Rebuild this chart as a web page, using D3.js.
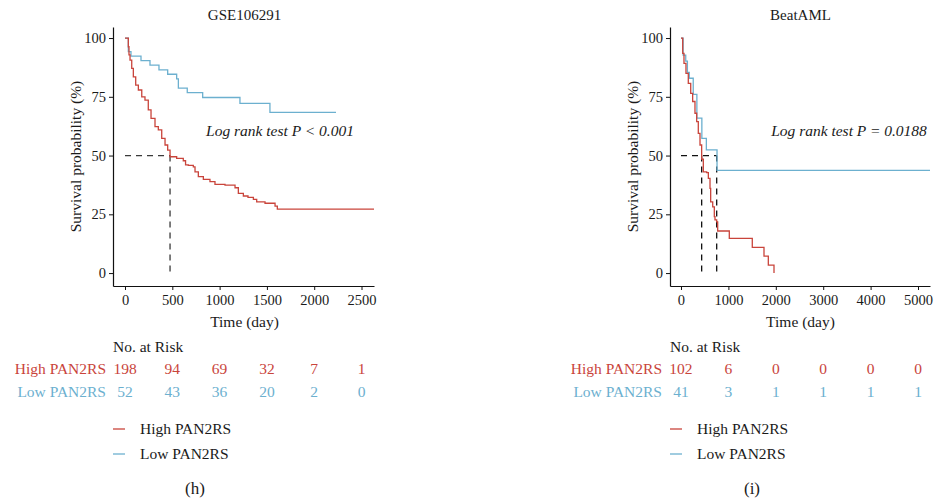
<!DOCTYPE html>
<html>
    <head>
        <style>
            body{
    margin: 0;
    background: #fff;
}
svg text{
    font-family: "Liberation Serif", "DejaVu Serif", serif;
    fill: #1a1a1a;
}
        </style>
    </head>
    <body>
        <svg id="km" width="934" height="502"></svg>
        <script src="https://cdnjs.cloudflare.com/ajax/libs/d3/7.8.5/d3.min.js"></script>
        <script>
            // colours of the two groups
            const red = "#c9443b";
            const blue = "#6cb0cf";

            // ---- GSE106291 (h) ----
            const ticksH = [0, 500, 1000, 1500, 2000, 2500];
            const riskHighH = [198, 94, 69, 32, 7, 1];
            const riskLowH = [52, 43, 36, 20, 2, 0];
            const highH = [[0,100],[18,100],[35,96.3],[42,92.8],[53,90.6],[71,87.1],[88,83.5],[113,80],[141,77.9],[177,75],[211,73.6],[246,69.4],[275,65.8],[317,62.3],[352,60.9],[388,57.3],[423,54.5],[451,52.3],[476,49.5],[546,48.8],[616,47.8],[640,46],[669,45.8],[722,45.2],[740,43.1],[775,41],[828,39.9],[898,38.9],[951,37.7],[1057,37.4],[1163,36.3],[1198,33.9],[1251,32.8],[1300,32.2],[1357,31.4],[1392,30.3],[1480,29.7],[1586,28.5],[1610,27.2],[2632,27.2]];
            const lowH = [[0,100],[35,94.2],[63,92.3],[169,90.4],[264,88.5],[359,86.5],[451,84.6],[546,82.6],[564,78.7],[658,76.8],[821,74.7],[1215,72.2],[1532,68.4],[2230,68.4]];
            const medianH = [476];

            // ---- BeatAML (i) ----
            const ticksB = [0, 1000, 2000, 3000, 4000, 5000];
            const riskHighB = [102, 6, 0, 0, 0, 0];
            const riskLowB = [41, 3, 1, 1, 1, 1];
            const highB = [[0,100],[15,100],[36,93.5],[63,89.2],[105,85],[154,80.7],[205,76.5],[246,73],[295,68],[331,64.4],[365,59.4],[401,54.5],[436,48.5],[471,43.1],[542,42.7],[577,40.3],[612,36],[626,30.3],[669,28.2],[703,24],[717,22.6],[753,21.8],[774,17.9],[1019,14.8],[1504,10.9],[1751,7.2],[1842,3.4],[1962,0]];
            const lowB = [[0,100],[15,100],[45,92.7],[100,90.2],[135,85.4],[175,82.9],[258,76],[335,65.9],[440,57.3],[535,52.4],[760,43.7],[5253,43.7]];
            const medianB = [436, 753];

            const yTicks = [0, 25, 50, 75, 100];

            const svg = d3.select("#km");
            const fs = "15.5px";

            drawPanel({
                title: "GSE106291", tag: "(h)", pText: "Log rank test P < 0.001",
                xDomain: [-127, 2632], xRange: [113, 374], pX: 280,
                ticks: ticksH, riskHigh: riskHighH, riskLow: riskLowH,
                high: highH, low: lowH, medians: medianH, dash: "#3a3a3a",
                labelRight: 106
            });
            drawPanel({
                title: "BeatAML", tag: "(i)", pText: "Log rank test P = 0.0188",
                xDomain: [-232, 5253], xRange: [670, 930], pX: 849,
                ticks: ticksB, riskHigh: riskHighB, riskLow: riskLowB,
                high: highB, low: lowB, medians: medianB, dash: "#111",
                labelRight: 662
            });

            function drawPanel(c) {
                const x = d3.scaleLinear().domain(c.xDomain).range(c.xRange);
                const y = d3.scaleLinear().domain([-5.5, 104.7]).range([286, 27]);
                const g = svg.append("g");
                const centre = x(0) + (c.xRange[1] - x(0)) / 2 - 5;

                g.append("text").attr("x", centre).attr("y", 20)
                    .attr("text-anchor", "middle").style("font-size", "15px").text(c.title);

                // median lines
                const dashed = g.append("g").attr("stroke", c.dash).attr("stroke-width", 1.3)
                    .attr("stroke-dasharray", "6,5").attr("fill", "none");
                dashed.append("line").attr("x1", x(0)).attr("x2", x(d3.max(c.medians)))
                    .attr("y1", y(50)).attr("y2", y(50));
                c.medians.forEach(m => {
                    dashed.append("line").attr("x1", x(m)).attr("x2", x(m))
                        .attr("y1", y(50)).attr("y2", y(0));
                });

                const line = d3.line().x(d => x(d[0])).y(d => y(d[1])).curve(d3.curveStepAfter);
                g.append("path").datum(c.low).attr("d", line).attr("fill", "none")
                    .attr("stroke", blue).attr("stroke-width", 1.3);
                g.append("path").datum(c.high).attr("d", line).attr("fill", "none")
                    .attr("stroke", red).attr("stroke-width", 1.3);

                // axes
                const yAxis = g.append("g").attr("transform", `translate(${c.xRange[0]},0)`)
                    .call(d3.axisLeft(y).tickValues(yTicks).tickSize(4).tickSizeOuter(0).tickPadding(3));
                const xAxis = g.append("g").attr("transform", "translate(0,286)")
                    .call(d3.axisBottom(x).tickValues(c.ticks).tickFormat(d3.format("d"))
                        .tickSize(4).tickSizeOuter(0).tickPadding(5));
                [yAxis, xAxis].forEach(a => {
                    a.selectAll("text").style("font-size", "14.5px").style("font-family", null);
                    a.selectAll("path, line").attr("stroke", "#111");
                    a.select(".domain").attr("stroke-width", 1.2);
                });

                g.append("text").attr("transform", `translate(${c.xRange[0] - 37},156.5) rotate(-90)`)
                    .attr("text-anchor", "middle").attr("dy", "0.35em").style("font-size", fs)
                    .text("Survival probability (%)");
                g.append("text").attr("x", centre).attr("y", 327)
                    .attr("text-anchor", "middle").style("font-size", fs).text("Time (day)");

                g.append("text").attr("x", c.pX).attr("y", 136).attr("text-anchor", "middle")
                    .style("font-size", fs).style("font-style", "italic").text(c.pText);

                // risk table
                g.append("text").attr("x", c.xRange[0]).attr("y", 352).style("font-size", fs).text("No. at Risk");
                [[c.riskHigh, red, "High PAN2RS", 369], [c.riskLow, blue, "Low PAN2RS", 392]].forEach(r => {
                    g.append("text").attr("x", c.labelRight).attr("y", r[3]).attr("dy", "0.35em")
                        .attr("text-anchor", "end").style("font-size", fs).style("fill", r[1]).text(r[2]);
                    g.selectAll(null).data(r[0]).enter().append("text")
                        .attr("x", (d, i) => x(c.ticks[i])).attr("y", r[3]).attr("dy", "0.35em")
                        .attr("text-anchor", "middle").style("font-size", fs).style("fill", r[1])
                        .text(d => d);
                });

                // legend
                [["High PAN2RS", red, 429], ["Low PAN2RS", blue, 454]].forEach(l => {
                    g.append("line").attr("x1", c.xRange[0]).attr("x2", c.xRange[0] + 12)
                        .attr("y1", l[2]).attr("y2", l[2]).attr("stroke", l[1]).attr("stroke-width", 1.3);
                    g.append("text").attr("x", c.xRange[0] + 27).attr("y", l[2]).attr("dy", "0.35em")
                        .style("font-size", fs).text(l[0]);
                });

                g.append("text").attr("x", c.xRange[0] + 82).attr("y", 488).attr("dy", "0.35em")
                    .attr("text-anchor", "middle").style("font-size", "17px").text(c.tag);
            }
        </script>
    </body>
</html>
